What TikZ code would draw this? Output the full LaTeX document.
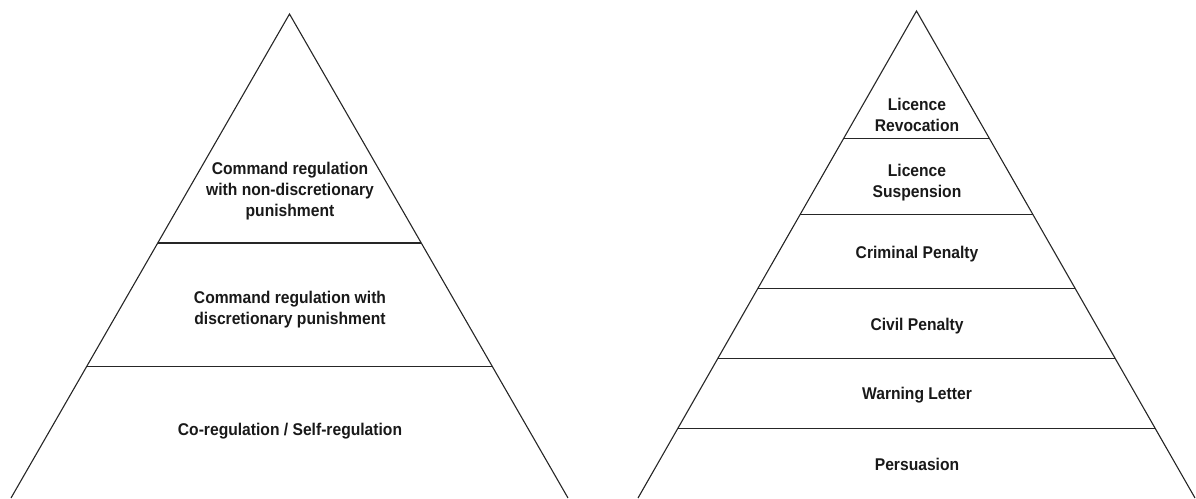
\documentclass[tikz,border=0pt]{standalone}
\usepackage{fontspec}
\newfontfamily\labfont[FakeStretch=0.92]{Liberation Sans}
\usetikzlibrary{calc}
\tikzset{
  edge/.style={draw=black!85, line width=1.1pt, line join=miter},
  lab/.style={align=center, inner sep=0pt, font=\labfont\bfseries\fontsize{17}{21}\selectfont, text=black!90}
}
\begin{document}
\begin{tikzpicture}[x=1pt,y=-1pt]
\useasboundingbox (0,0) rectangle (1196,498);
% left pyramid
\coordinate (LA) at (289.5,14);
\coordinate (LL) at (11,498);
\coordinate (LR) at (568,498);
\draw[edge] (LL) -- (LA) -- (LR);
\foreach \y/\n in {243/l1, 366.7/l2} {
  \coordinate (\n a) at ($(LA)!{(\y-14)/484}!(LL)$);
  \coordinate (\n b) at ($(LA)!{(\y-14)/484}!(LR)$);
  \draw[edge] (\n a) -- (\n b);
}
\node[lab] (t1) at (290,191) {Command regulation\\with non-discretionary\\punishment};
\node[lab] (t2) at (290,310) {Command regulation with\\discretionary punishment};
\node[lab] (t3) at (290,431) {Co-regulation / Self-regulation};
% right pyramid
\coordinate (RA) at (916.5,11);
\coordinate (RL) at (638,498);
\coordinate (RR) at (1195,498);
\draw[edge] (RL) -- (RA) -- (RR);
\foreach \y/\n in {138.3/r1, 214.5/r2, 288.3/r3, 358.3/r4, 428.3/r5} {
  \coordinate (\n a) at ($(RA)!{(\y-11)/487}!(RL)$);
  \coordinate (\n b) at ($(RA)!{(\y-11)/487}!(RR)$);
  \draw[edge] (\n a) -- (\n b);
}
\node[lab] (s1) at (917,115) {Licence\\Revocation};
\node[lab] (s2) at (917,183) {Licence\\Suspension};
\node[lab] (s3) at (917,254) {Criminal Penalty};
\node[lab] (s4) at (917,326) {Civil Penalty};
\node[lab] (s5) at (917,395) {Warning Letter};
\node[lab] (s6) at (917,464) {Persuasion};
\end{tikzpicture}
\end{document}
